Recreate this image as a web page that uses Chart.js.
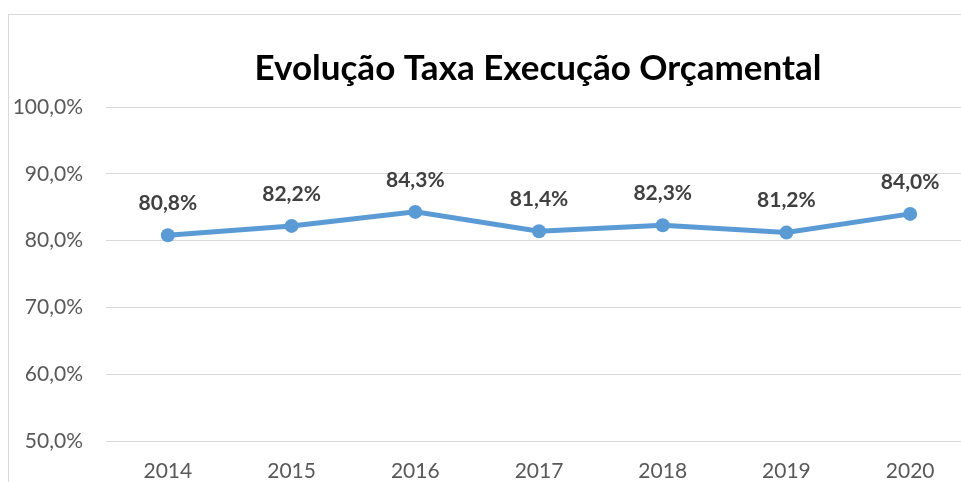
<!DOCTYPE html>
<html lang="pt">
<head>
    <meta charset="UTF-8">
    <title>Evolução Taxa Execução Orçamental</title>
    <script src="https://cdn.jsdelivr.net/npm/chart.js"></script>
    <style>
        body {
            margin: 0;
            overflow: hidden;
            background: #fff;
            font-family: Lato, sans-serif;
        }
        #box {
            position: absolute;
            left: 8px;
            top: 14px;
            width: 1060px;
            height: 520px;
            border: 1px solid #d9d9d9;
            border-right: none;
        }
    </style>
</head>
<body>
    <div id="box">
        <canvas id="taxaChart" width="970" height="500"></canvas>
    </div>

    <script>
        const chartTitle = 'Evolução Taxa Execução Orçamental';
        const years = ['2014', '2015', '2016', '2017', '2018', '2019', '2020'];
        const taxa = [80.8, 82.2, 84.3, 81.4, 82.3, 81.2, 84.0];
        const yMin = 50;
        const yMax = 100;
        const yStep = 10;

        const fmt = v => v.toFixed(1).replace('.', ',') + '%';

        // title and point labels drawn by hand (no datalabels plugin offline)
        const labelsPlugin = {
            id: 'labelsPlugin',
            afterDatasetsDraw(chart) {
                const ctx = chart.ctx;
                const meta = chart.getDatasetMeta(0);
                ctx.save();
                ctx.fillStyle = '#404040';
                ctx.font = 'bold 21px Lato';
                ctx.textAlign = 'center';
                ctx.textBaseline = 'middle';
                meta.data.forEach((pt, i) => {
                    ctx.fillText(fmt(taxa[i]), pt.x, pt.y - 32);
                });
                ctx.fillStyle = '#000';
                ctx.font = 'bold 35px Lato';
                ctx.fillText(chartTitle, 529, 54);
                ctx.restore();
            }
        };

        const ctx = document.getElementById('taxaChart').getContext('2d');
        new Chart(ctx, {
            type: 'line',
            data: {
                labels: years,
                datasets: [{
                    data: taxa,
                    borderColor: '#5b9bd5',
                    backgroundColor: '#5b9bd5',
                    borderWidth: 5,
                    pointRadius: 7,
                    pointBorderWidth: 0,
                    tension: 0
                }]
            },
            options: {
                responsive: false,
                animation: false,
                layout: { padding: { top: 92, left: 0, right: 0, bottom: 0 } },
                plugins: {
                    legend: { display: false },
                    title: { display: false },
                    tooltip: { enabled: false }
                },
                scales: {
                    x: {
                        offset: true,
                        grid: { display: false, drawTicks: false },
                        border: { display: false },
                        ticks: { color: '#595959', font: { size: 21, family: 'Lato' }, padding: 18 },
                        afterFit(scale) { scale.height = 74; }
                    },
                    y: {
                        min: yMin,
                        max: yMax,
                        ticks: {
                            stepSize: yStep,
                            color: '#595959',
                            font: { size: 21, family: 'Lato' },
                            padding: 23,
                            callback: v => fmt(v)
                        },
                        grid: { color: '#d9d9d9', lineWidth: 1, drawTicks: false },
                        border: { display: false },
                        afterFit(scale) { scale.width = 97; }
                    }
                }
            },
            plugins: [labelsPlugin]
        });
    </script>
</body>
</html>
